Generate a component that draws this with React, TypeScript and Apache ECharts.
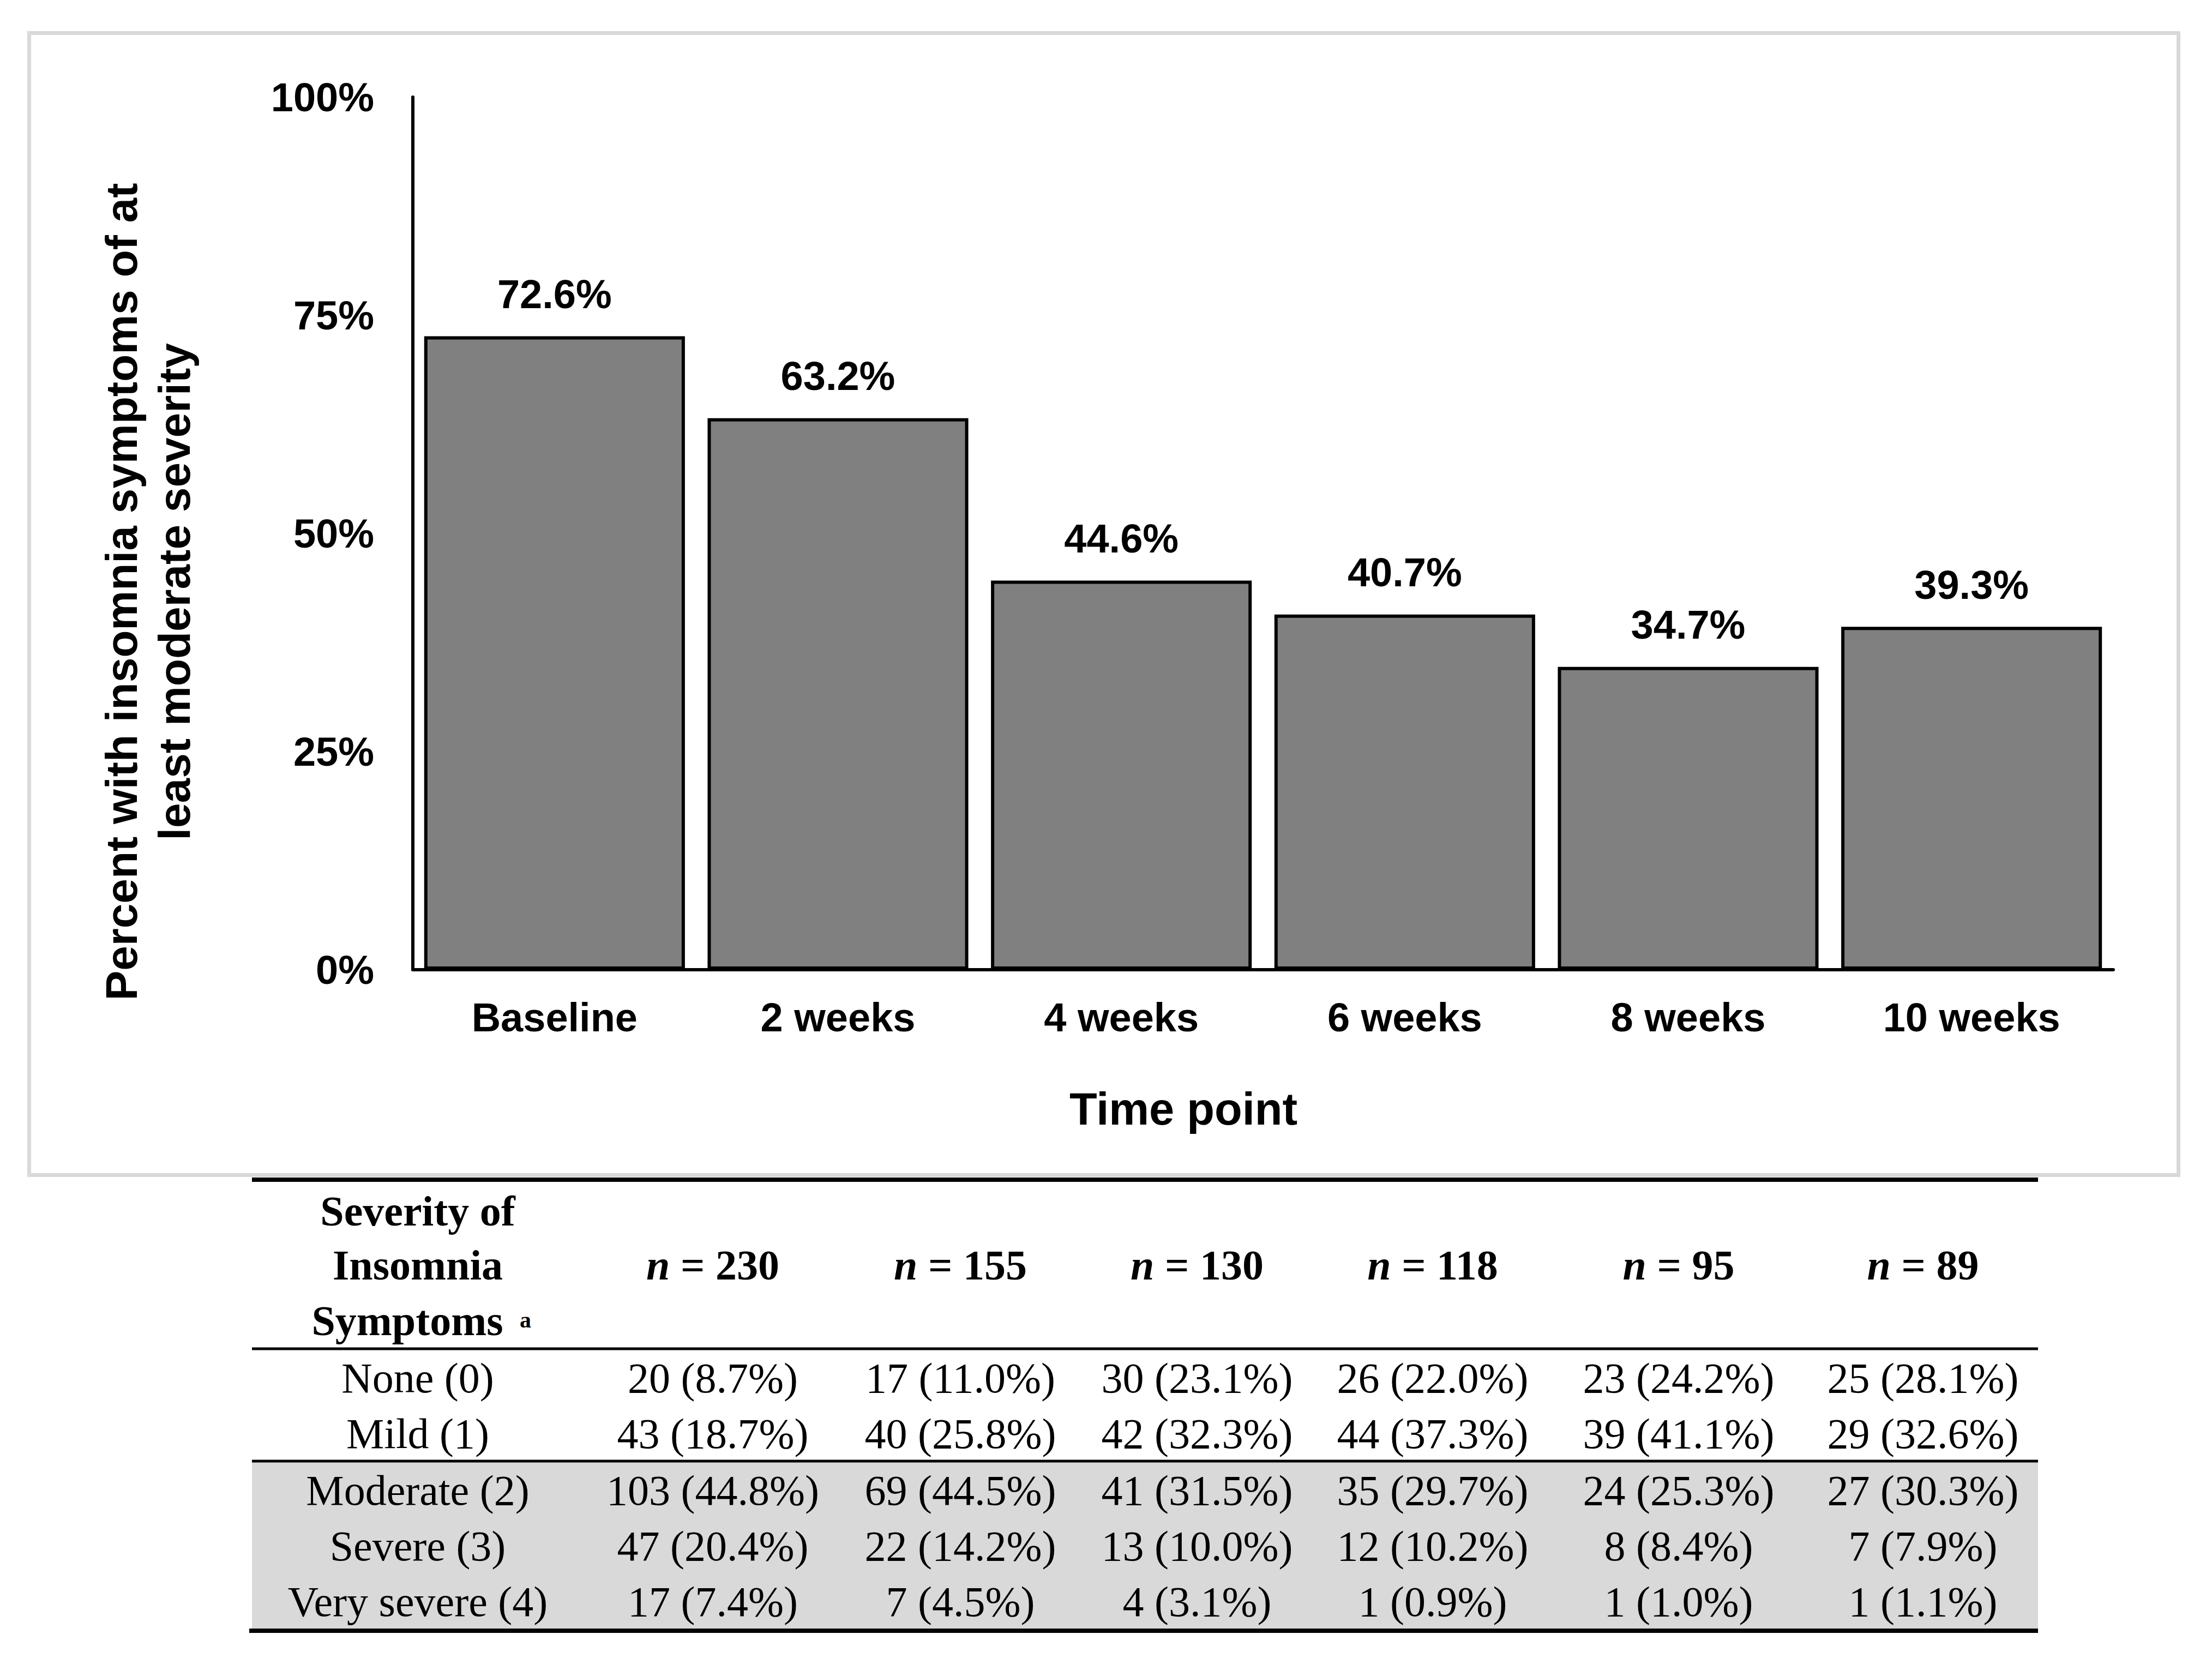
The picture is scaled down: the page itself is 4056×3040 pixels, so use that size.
import React, { useEffect, useRef } from 'react';
import * as echarts from 'echarts';

// ---------- data ----------
const categories = ['Baseline', '2 weeks', '4 weeks', '6 weeks', '8 weeks', '10 weeks'];
const percentModerateOrWorse = [72.6, 63.2, 44.6, 40.7, 34.7, 39.3];
const yTickStep = 25;
const yMax = 100;
const sampleSizes = [230, 155, 130, 118, 95, 89];
const severityLabels = ['None (0)', 'Mild (1)', 'Moderate (2)', 'Severe (3)', 'Very severe (4)'];
const noneRow = ['20 (8.7%)', '17 (11.0%)', '30 (23.1%)', '26 (22.0%)', '23 (24.2%)', '25 (28.1%)'];
const mildRow = ['43 (18.7%)', '40 (25.8%)', '42 (32.3%)', '44 (37.3%)', '39 (41.1%)', '29 (32.6%)'];
const moderateRow = ['103 (44.8%)', '69 (44.5%)', '41 (31.5%)', '35 (29.7%)', '24 (25.3%)', '27 (30.3%)'];
const severeRow = ['47 (20.4%)', '22 (14.2%)', '13 (10.0%)', '12 (10.2%)', '8 (8.4%)', '7 (7.9%)'];
const verySevereRow = ['17 (7.4%)', '7 (4.5%)', '4 (3.1%)', '1 (0.9%)', '1 (1.0%)', '1 (1.1%)'];
const tableRows = [noneRow, mildRow, moderateRow, severeRow, verySevereRow];
const yTitleLine1 = 'Percent with insomnia symptoms of at';
const yTitleLine2 = 'least moderate severity';
const xTitle = 'Time point';
const headerLines = ['Severity of', 'Insomnia', 'Symptoms'];

// ---------- layout ----------
const W = 4056;
const H = 3040;
const SANS = 'Liberation Sans, Arial, sans-serif';
const SERIF = 'Liberation Serif, Times New Roman, serif';
const colCenters = [766, 1307, 1761, 2195, 2627, 3078, 3526];
const tableLeft = 462;
const tableRight = 3737;
const serifSize = 78;
const serifMid = (baseline: number) => baseline - 0.335 * serifSize;
const headerBaselines = [2247, 2346, 2448];
const rowBaselines = [2553, 2655, 2759, 2861, 2963];

export default function App() {
  const ref = useRef<HTMLDivElement>(null);

  useEffect(() => {
    if (!ref.current) return;
    const chart = echarts.init(ref.current, undefined, { renderer: 'svg', width: W, height: H });

    const graphics: any[] = [];
    // outer light gray frame around the chart
    graphics.push({
      type: 'rect',
      z: -10,
      shape: { x: 53.5, y: 60.5, width: 3941, height: 2094 },
      style: { fill: 'none', stroke: '#d9d9d9', lineWidth: 7 },
    });
    // y-axis title (two rotated lines)
    graphics.push({
      type: 'text',
      x: 222,
      y: 1085,
      rotation: Math.PI / 2,
      style: { text: yTitleLine1, fontFamily: SANS, fontWeight: 'bold', fontSize: 82, fill: '#000', align: 'center', verticalAlign: 'middle' },
    });
    graphics.push({
      type: 'text',
      x: 319,
      y: 1085,
      rotation: Math.PI / 2,
      style: { text: yTitleLine2, fontFamily: SANS, fontWeight: 'bold', fontSize: 82, fill: '#000', align: 'center', verticalAlign: 'middle' },
    });
    // x-axis title
    graphics.push({
      type: 'text',
      x: 2170,
      y: 2033,
      style: { text: xTitle, fontFamily: SANS, fontWeight: 'bold', fontSize: 83, fill: '#000', align: 'center', verticalAlign: 'middle' },
    });

    // ---------- table ----------
    graphics.push({
      type: 'rect',
      z: -5,
      shape: { x: tableLeft, y: 2681, width: tableRight - tableLeft, height: 305 },
      style: { fill: '#d9d9d9' },
    });
    const hline = (y: number, lw: number, x1 = tableLeft) => ({
      type: 'line',
      shape: { x1, y1: y, x2: tableRight, y2: y },
      style: { stroke: '#000', lineWidth: lw },
    });
    graphics.push(hline(2163, 8));
    graphics.push(hline(2473, 5));
    graphics.push(hline(2679, 5));
    graphics.push(hline(2990, 8, 457));

    // header first column
    headerLines.forEach((t, i) => {
      graphics.push({
        type: 'text',
        x: i === 2 ? 747 : colCenters[0],
        y: serifMid(headerBaselines[i]),
        style: { text: t, fontFamily: SERIF, fontWeight: 'bold', fontSize: serifSize, fill: '#000', align: 'center', verticalAlign: 'middle' },
      });
    });
    graphics.push({
      type: 'text',
      x: 953,
      y: 2420,
      style: { text: 'a', fontFamily: SERIF, fontWeight: 'bold', fontSize: 42, fill: '#000', align: 'left', verticalAlign: 'middle' },
    });
    // header n = ...
    sampleSizes.forEach((n, i) => {
      graphics.push({
        type: 'text',
        x: colCenters[i + 1],
        y: serifMid(headerBaselines[1]),
        style: {
          text: `{i|n}{b| = ${n}}`,
          align: 'center',
          verticalAlign: 'middle',
          rich: {
            i: { fontFamily: SERIF, fontWeight: 'bold', fontStyle: 'italic', fontSize: serifSize, fill: '#000', color: '#000' },
            b: { fontFamily: SERIF, fontWeight: 'bold', fontSize: serifSize, fill: '#000', color: '#000' },
          },
        },
      });
    });
    // body rows
    tableRows.forEach((row, r) => {
      graphics.push({
        type: 'text',
        x: colCenters[0],
        y: serifMid(rowBaselines[r]),
        style: { text: severityLabels[r], fontFamily: SERIF, fontSize: serifSize, fill: '#000', align: 'center', verticalAlign: 'middle' },
      });
      row.forEach((cell, c) => {
        graphics.push({
          type: 'text',
          x: colCenters[c + 1],
          y: serifMid(rowBaselines[r]),
          style: { text: cell, fontFamily: SERIF, fontSize: serifSize, fill: '#000', align: 'center', verticalAlign: 'middle' },
        });
      });
    });

    chart.setOption({
      animation: false,
      backgroundColor: '#ffffff',
      grid: { left: 757, top: 178, width: 3118, height: 1600, containLabel: false },
      xAxis: {
        type: 'category',
        data: categories,
        axisLine: { show: true, lineStyle: { color: '#000', width: 6 } },
        axisTick: { show: false },
        axisLabel: { color: '#000', fontFamily: SANS, fontWeight: 'bold', fontSize: 74, margin: 50, interval: 0 },
        splitLine: { show: false },
      },
      yAxis: {
        type: 'value',
        min: 0,
        max: yMax,
        interval: yTickStep,
        axisLine: { show: true, lineStyle: { color: '#000', width: 6 } },
        axisTick: { show: false },
        splitLine: { show: false },
        axisLabel: { color: '#000', fontFamily: SANS, fontWeight: 'bold', fontSize: 74, margin: 71, formatter: '{value}%' },
      },
      series: [
        {
          type: 'bar',
          data: percentModerateOrWorse,
          barWidth: '92%',
          itemStyle: { color: '#808080', borderColor: '#000', borderWidth: 6 },
          label: {
            show: true,
            position: 'top',
            distance: 40,
            formatter: (p: any) => `${p.value.toFixed(1)}%`,
            color: '#000',
            fontFamily: SANS,
            fontWeight: 'bold',
            fontSize: 74,
          },
        },
      ],
      graphic: { elements: graphics },
    });

    return () => chart.dispose();
  }, []);

  return (
    <div
      ref={ref}
      style={{ position: 'absolute', left: 0, top: 0, width: W, height: H, background: '#fff' }}
    />
  );
}
